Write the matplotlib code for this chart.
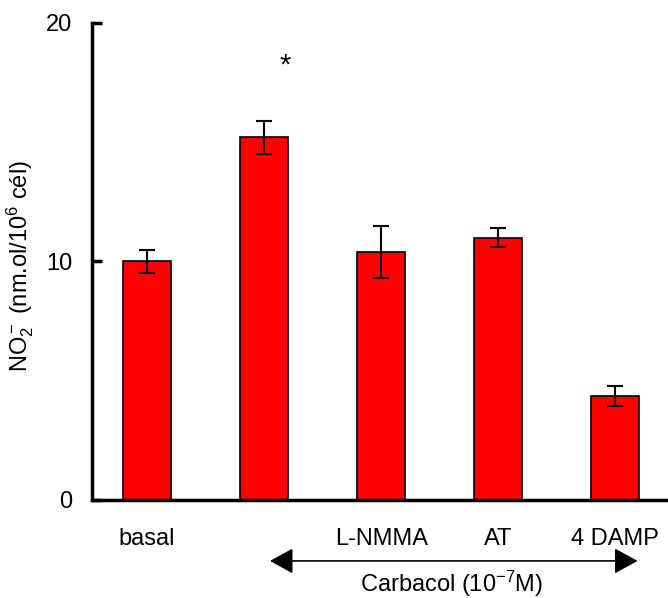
import numpy as np
import matplotlib
matplotlib.use("Agg")
import matplotlib.pyplot as plt

plt.rcParams['font.family'] = ['Liberation Sans', 'DejaVu Sans']
plt.rcParams['mathtext.fontset'] = 'custom'
plt.rcParams['mathtext.rm'] = 'Liberation Sans'
plt.rcParams['mathtext.it'] = 'Liberation Sans'
plt.rcParams['mathtext.default'] = 'regular'

labels = ['basal', '', 'L-NMMA', 'AT', '4 DAMP']
values = [10.0, 15.2, 10.4, 11.0, 4.35]
errors = [0.5, 0.7, 1.1, 0.4, 0.43]
star_y = 18.2

fs = 17

fig = plt.figure(figsize=(6.68, 5.98), dpi=100)
ax = fig.add_axes([0.1377, 0.1639, 0.8623, 0.7977])

x = np.arange(len(values))
ax.bar(x, values, width=0.41, color='#ff0000', edgecolor='black', linewidth=1.2,
       yerr=errors, capsize=6, error_kw=dict(ecolor='black', elinewidth=1.5, capthick=1.5))

ax.text(1.18, star_y, '*', ha='center', va='center', fontsize=21)

ax.set_xlim(-0.47, 4.45)
ax.set_ylim(0, 20)
ax.set_yticks([0, 10, 20])
ax.set_xticks(x)
ax.set_xticklabels(labels, fontsize=fs)
ax.tick_params(axis='x', length=0, pad=20)
ax.tick_params(axis='y', direction='in', length=7, width=2.5, labelsize=fs, pad=14)

for s in ['top', 'right']:
    ax.spines[s].set_visible(False)
for s in ['left', 'bottom']:
    ax.spines[s].set_linewidth(2.5)

ax.set_ylabel(r'NO$_2^-$ (nm.ol/10$^6$ cél)', fontsize=fs)
ax.yaxis.set_label_coords(-0.098, 0.49)

# carbacol arrow
ax.annotate('', xy=(4.19, 0.062), xytext=(1.05, 0.062),
            xycoords=('data', 'figure fraction'), textcoords=('data', 'figure fraction'),
            arrowprops=dict(arrowstyle='<|-|>,head_length=0.4,head_width=0.22', color='black', lw=1.2,
                            mutation_scale=36, shrinkA=0, shrinkB=0))
ax.annotate(r'Carbacol (10$^{-7}$M)', xy=(2.6, 0.024), xycoords=('data', 'figure fraction'),
            ha='center', va='center', fontsize=fs)

fig.savefig('out.png', dpi=100)
